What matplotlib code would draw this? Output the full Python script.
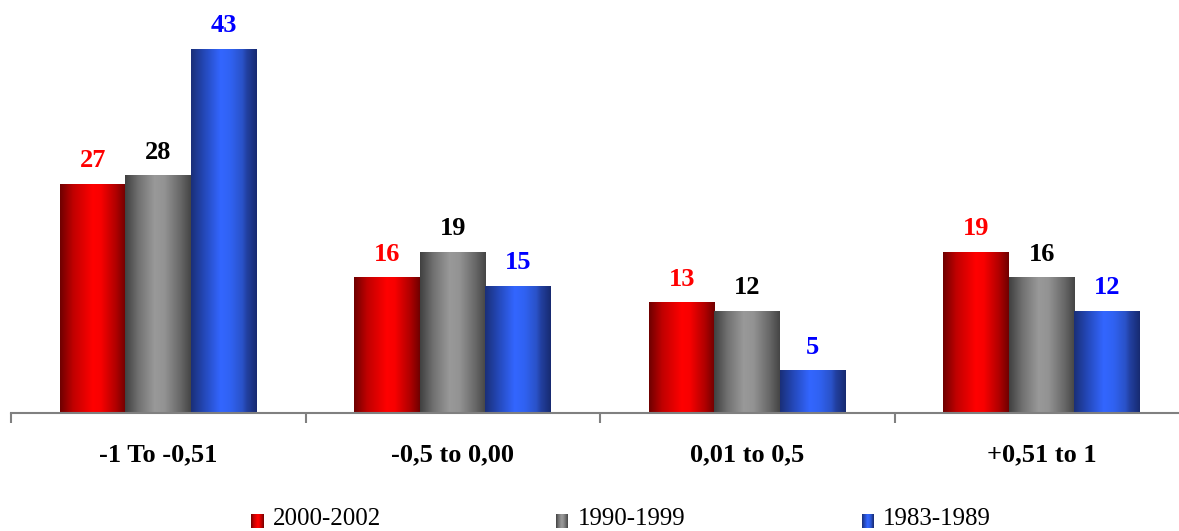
import numpy as np
import matplotlib
matplotlib.use("Agg")
import matplotlib.pyplot as plt
from matplotlib.colors import LinearSegmentedColormap

categories = ['-1 To -0,51', '-0,5 to 0,00', '0,01 to 0,5', '+0,51 to 1']
series_names = ['2000-2002', '1990-1999', '1983-1989']
s2000 = [27, 16, 13, 19]
s1990 = [28, 19, 12, 16]
s1983 = [43, 15, 5, 12]
values = [s2000, s1990, s1983]

label_colors = ['#ff0000', '#000000', '#0000ff']
grad_stops = [
    [(0.0, '#6e0000'), (0.2, '#c00000'), (0.5, '#ff0000'), (0.62, '#f80000'), (0.85, '#b00000'), (1.0, '#700000')],
    [(0.0, '#404040'), (0.2, '#707070'), (0.45, '#999999'), (0.6, '#939393'), (0.85, '#666666'), (1.0, '#454545')],
    [(0.0, '#1a2f78'), (0.2, '#2448b8'), (0.45, '#3366ff'), (0.6, '#3062f2'), (0.78, '#2a52c8'), (0.85, '#2240a0'), (1.0, '#172a70')],
]
cmaps = [LinearSegmentedColormap.from_list(f'g{i}', s) for i, s in enumerate(grad_stops)]

plt.rcParams['font.family'] = ['Liberation Serif', 'DejaVu Serif']

W, H = 1179, 531
fig = plt.figure(figsize=(W / 100, H / 100), dpi=100)
ppu = 8.465  # px per unit
ytop = 48
ax = fig.add_axes([11 / W, (H - 413) / H, 1178 / W, ytop * ppu / H])

n = len(categories)
x = np.arange(n) + 0.5
bw = 0.224
offs = [-0.2225, 0.0, 0.2225]
grad = np.linspace(0, 1, 256).reshape(1, -1)

for si in range(3):
    bars = ax.bar(x + offs[si], values[si], width=bw, color='none', edgecolor='none', zorder=2)
    for b, v in zip(bars, values[si]):
        x0, w, h = b.get_x(), b.get_width(), b.get_height()
        ax.imshow(grad, cmap=cmaps[si], extent=[x0, x0 + w, 0, h], aspect='auto',
                  interpolation='bilinear', zorder=2)
        ax.annotate(str(v), (x0 + w / 2, h), xytext=(0, 12), textcoords='offset pixels',
                    ha='center', va='bottom', fontsize=19, fontweight='bold',
                    color=label_colors[si])

ax.set_xlim(0, n)
ax.set_ylim(0, ytop)
for sp in ['top', 'right', 'left']:
    ax.spines[sp].set_visible(False)
ax.spines['bottom'].set_color('#808080')
ax.spines['bottom'].set_linewidth(1.5)
ax.set_yticks([])
ax.set_xticks(np.arange(n + 1))
ax.set_xticklabels([])
ax.tick_params(axis='x', which='major', length=7, width=1.5, color='#808080', direction='out')
ax.set_xticks(x, minor=True)
ax.set_xticklabels(categories, minor=True, fontsize=19, fontweight='bold')
ax.tick_params(axis='x', which='minor', length=0, pad=22)

# legend
leg_sq_x = [251, 556, 862]
leg_txt_x = [273, 578, 883]
for si in range(3):
    lax = fig.add_axes([leg_sq_x[si] / W, (H - 528) / H, 12 / W, 14 / H])
    lax.imshow(grad, cmap=cmaps[si], aspect='auto', extent=[0, 1, 0, 1])
    lax.axis('off')
    fig.text(leg_txt_x[si] / W, (H - 519) / H, series_names[si], fontsize=18,
             ha='left', va='center', color='black')

fig.savefig('out.png', dpi=100)
